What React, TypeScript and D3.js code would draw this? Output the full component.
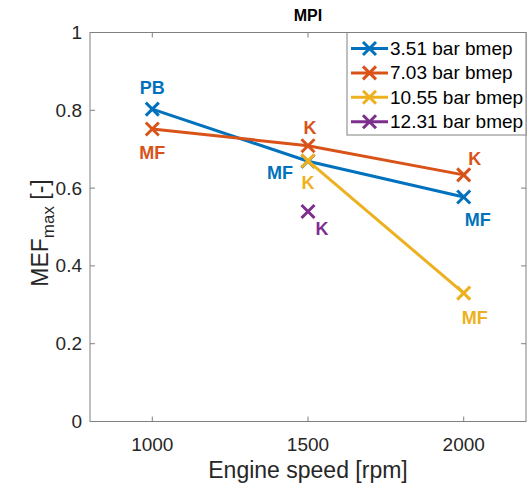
import React from "react";
import * as d3 from "d3";

const speeds = [1000, 1500, 2000];
const seriesNames = ["3.51 bar bmep", "7.03 bar bmep", "10.55 bar bmep", "12.31 bar bmep"];
const s351 = [0.803, 0.669, 0.577];
const s703 = [0.752, 0.709, 0.634];
const s1055 = [null, 0.67, 0.33];
const s1231 = [null, 0.54, null];
const colors = ["#0072BD", "#D95319", "#EDB120", "#7E2F8E"];
const xTicks = [1000, 1500, 2000];
const yTicks = [0, 0.2, 0.4, 0.6, 0.8, 1];

// annotation labels: series index, speed index, text
const labelSeries = [0, 0, 0, 1, 1, 1, 2, 2, 3];
const labelSpeed = [0, 1, 2, 0, 1, 2, 1, 2, 1];
const labelText = ["PB", "MF", "MF", "MF", "K", "K", "K", "MF", "K"];
// pixel offsets (style) for labels
const labelDx = [0, -28, 14, 0, 2, 11, 0, 11, 14];
const labelDy = [-21, 12, 23, 24, -18, -16, 22, 25, 18];

const W = 531;
const H = 487;
const L = 90, R = 526, T = 32.5, B = 421.5;
const FONT = "Arial, 'Liberation Sans', Helvetica, sans-serif";
const AX = "#808080";
const TXT = "#262626";

function Cross({ x, y, c, s = 6.5 }: { x: number; y: number; c: string; s?: number }) {
  return (
    <g stroke={c} strokeWidth={3} strokeLinecap="butt">
      <line x1={x - s} y1={y - s} x2={x + s} y2={y + s} />
      <line x1={x - s} y1={y + s} x2={x + s} y2={y - s} />
    </g>
  );
}

export default function App() {
  const x = d3.scaleLinear().domain([800, 2200]).range([L, R]);
  const y = d3.scaleLinear().domain([0, 1]).range([B, T]);
  const all = [s351, s703, s1055, s1231];
  const line = d3
    .line<[number, number | null]>()
    .defined((d) => d[1] != null)
    .x((d) => x(d[0]))
    .y((d) => y(d[1] as number));

  const legX = 347, legY = T, legW = R - 347, rowH = 24.4, row0 = 48.5;
  const legH = 135 - T;

  return (
    <svg
      width={W}
      height={H}
      style={{ position: "absolute", left: 0, top: 0, background: "#fff" }}
      fontFamily={FONT}
    >
      <rect x={0} y={0} width={W} height={H} fill="#fff" />
      {/* ticks */}
      {xTicks.map((t) => (
        <g key={"xt" + t} stroke={AX} strokeWidth={1}>
          <line x1={x(t)} x2={x(t)} y1={B} y2={B - 5} />
          <line x1={x(t)} x2={x(t)} y1={T} y2={T + 5} />
        </g>
      ))}
      {yTicks.map((t) => (
        <g key={"yt" + t} stroke={AX} strokeWidth={1}>
          <line x1={L} x2={L + 5} y1={y(t)} y2={y(t)} />
          <line x1={R} x2={R - 5} y1={y(t)} y2={y(t)} />
        </g>
      ))}
      <rect x={L} y={T} width={R - L} height={B - T} fill="none" stroke={AX} strokeWidth={1} />
      {xTicks.map((t) => (
        <text key={"xl" + t} x={x(t)} y={444} textAnchor="middle" dominantBaseline="central" fontSize={19} fill={TXT}>
          {t}
        </text>
      ))}
      {yTicks.map((t) => (
        <text key={"yl" + t} x={82} y={y(t)} textAnchor="end" dominantBaseline="central" fontSize={19} fill={TXT}>
          {d3.format("~g")(t)}
        </text>
      ))}
      <text x={(L + R) / 2} y={15} textAnchor="middle" dominantBaseline="central" fontSize={16} fontWeight="bold" fill="#000">
        MPI
      </text>
      <text x={(L + R) / 2} y={478} textAnchor="middle" fontSize={23} fill={TXT}>
        Engine speed [rpm]
      </text>
      <text
        transform={`translate(48, 233) rotate(-90)`}
        textAnchor="middle"
        fontSize={23}
        fill={TXT}
      >
        MEF
        <tspan fontSize={17} dy={6}>max</tspan>
        <tspan dy={-6}> [-]</tspan>
      </text>

      {/* series */}
      {all.map((vals, i) => {
        const pts = speeds.map((s, j) => [s, vals[j]] as [number, number | null]);
        return (
          <g key={"s" + i}>
            <path d={line(pts) || ""} fill="none" stroke={colors[i]} strokeWidth={3} />
            {pts
              .filter((p) => p[1] != null)
              .map((p, j) => (
                <Cross key={j} x={x(p[0])} y={y(p[1] as number)} c={colors[i]} />
              ))}
          </g>
        );
      })}

      {/* annotations */}
      {labelText.map((t, k) => {
        const si = labelSeries[k];
        const v = all[si][labelSpeed[k]] as number;
        return (
          <text
            key={"a" + k}
            x={x(speeds[labelSpeed[k]]) + labelDx[k]}
            y={y(v) + labelDy[k]}
            textAnchor="middle"
            dominantBaseline="central"
            fontSize={18}
            fontWeight="bold"
            fill={colors[si]}
          >
            {t}
          </text>
        );
      })}

      {/* legend */}
      <rect x={legX} y={legY} width={legW} height={legH} fill="#fff" stroke={AX} strokeWidth={1} />
      {seriesNames.map((n, i) => {
        const ry = row0 + i * rowH;
        return (
          <g key={"lg" + i}>
            <line x1={351} x2={388} y1={ry} y2={ry} stroke={colors[i]} strokeWidth={3} />
            <Cross x={369.5} y={ry} c={colors[i]} />
            <text x={390} y={ry} dominantBaseline="central" fontSize={19} fill="#000">
              {n}
            </text>
          </g>
        );
      })}
    </svg>
  );
}
